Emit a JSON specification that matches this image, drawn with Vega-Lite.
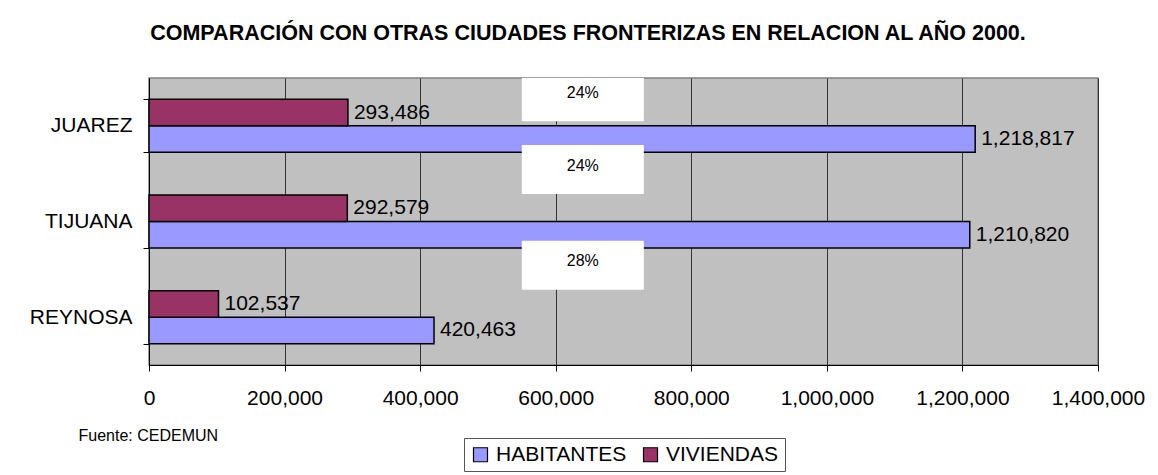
{
  "$schema": "https://vega.github.io/schema/vega-lite/v6.json",
  "autosize": {"type": "none"},
  "width": 949,
  "height": 287,
  "padding": {"left": 149, "top": 78, "right": 60, "bottom": 110},
  "background": "white",
  "title": {
    "text": "COMPARACIÓN CON OTRAS CIUDADES FRONTERIZAS EN RELACION AL AÑO 2000.",
    "font": "Liberation Sans",
    "fontSize": 21.5,
    "fontWeight": "bold",
    "color": "black",
    "anchor": "middle",
    "frame": "group",
    "baseline": "alphabetic",
    "dx": -35.5,
    "offset": 6
  },
  "config": {
    "font": "Liberation Sans",
    "numberFormat": ",",
    "view": {"fill": "#c0c0c0", "stroke": "#808080", "strokeWidth": 1.5},
    "axis": {"labelFont": "Liberation Sans", "labelColor": "black", "domainColor": "black", "tickColor": "black"}
  },
  "data": {
    "values": [
      {"city": "JUAREZ", "series": "HABITANTES", "value": 1218817},
      {"city": "JUAREZ", "series": "VIVIENDAS", "value": 293486},
      {"city": "TIJUANA", "series": "HABITANTES", "value": 1210820},
      {"city": "TIJUANA", "series": "VIVIENDAS", "value": 292579},
      {"city": "REYNOSA", "series": "HABITANTES", "value": 420463},
      {"city": "REYNOSA", "series": "VIVIENDAS", "value": 102537}
    ]
  },
  "encoding": {
    "y": {
      "field": "city", "type": "nominal", "sort": ["JUAREZ", "TIJUANA", "REYNOSA"],
      "scale": {"paddingInner": 0.446, "paddingOuter": 0.223},
      "axis": {"title": null, "labelFontSize": 21, "labelPadding": 11, "tickSize": 6, "tickBand": "extent", "domainColor": "black", "grid": false}
    }
  },
  "layer": [
    {
      "mark": {"type": "bar", "stroke": "black", "strokeWidth": 1.5},
      "encoding": {
        "x": {
          "field": "value", "type": "quantitative",
          "scale": {"domain": [0, 1400000], "nice": false},
          "axis": {
            "values": [0, 200000, 400000, 600000, 800000, 1000000, 1200000, 1400000],
            "format": ",", "labelExpr": "format(datum.value, ',')",
            "labelFontSize": 21, "labelPadding": 16, "tickSize": 6,
            "grid": true, "gridColor": "#333", "gridWidth": 1, "gridOpacity": 1,
            "labelFlush": false,
            "title": "Fuente: CEDEMUN", "titleFont": "Liberation Sans", "titleFontSize": 16, "titleFontWeight": "normal",
            "titleColor": "black", "titleAnchor": "start", "titleAlign": "left", "titleBaseline": "alphabetic",
            "titleX": -71, "titleY": 75
          }
        },
        "yOffset": {"field": "series", "type": "nominal", "sort": ["VIVIENDAS", "HABITANTES"], "scale": {"paddingInner": 0, "paddingOuter": 0}},
        "fill": {
          "field": "series", "type": "nominal",
          "scale": {"domain": ["HABITANTES", "VIVIENDAS"], "range": ["#9999ff", "#993366"]},
          "legend": {
            "title": null, "orient": "none", "direction": "horizontal", "legendX": 315, "legendY": 360,
            "strokeColor": "#555", "padding": 6, "symbolType": "square", "symbolSize": 196,
            "symbolStrokeColor": "black", "symbolStrokeWidth": 1.2, "labelFontSize": 21, "labelFont": "Liberation Sans",
            "labelColor": "black", "columnPadding": 13, "symbolOffset": 0, "labelOffset": 5
          }
        }
      }
    },
    {
      "mark": {"type": "text", "align": "left", "baseline": "middle", "dx": 6, "fontSize": 21, "color": "black"},
      "encoding": {
        "x": {"field": "value", "type": "quantitative"},
        "yOffset": {"field": "series", "type": "nominal", "sort": ["VIVIENDAS", "HABITANTES"]},
        "text": {"field": "value", "type": "quantitative", "format": ","}
      }
    },
    {
      "data": {"values": [{"city": "JUAREZ", "pct": "24%"}]},
      "layer": [
        {
          "mark": {"type": "bar", "fill": "white", "height": 49, "yOffset": -29, "clip": true},
          "encoding": {"x": {"datum": 550000, "type": "quantitative"}, "x2": {"datum": 730000}}
        },
        {
          "mark": {"type": "text", "fontSize": 16, "color": "black", "baseline": "middle", "yOffset": -33},
          "encoding": {"x": {"datum": 640000, "type": "quantitative"}, "text": {"field": "pct"}}
        }
      ]
    },
    {
      "data": {"values": [{"city": "TIJUANA", "pct": "24%"}, {"city": "REYNOSA", "pct": "28%"}]},
      "layer": [
        {
          "mark": {"type": "bar", "fill": "white", "height": 49, "yOffset": -52},
          "encoding": {"x": {"datum": 550000, "type": "quantitative"}, "x2": {"datum": 730000}}
        },
        {
          "mark": {"type": "text", "fontSize": 16, "color": "black", "baseline": "middle", "yOffset": -56},
          "encoding": {"x": {"datum": 640000, "type": "quantitative"}, "text": {"field": "pct"}}
        }
      ]
    }
  ]
}
